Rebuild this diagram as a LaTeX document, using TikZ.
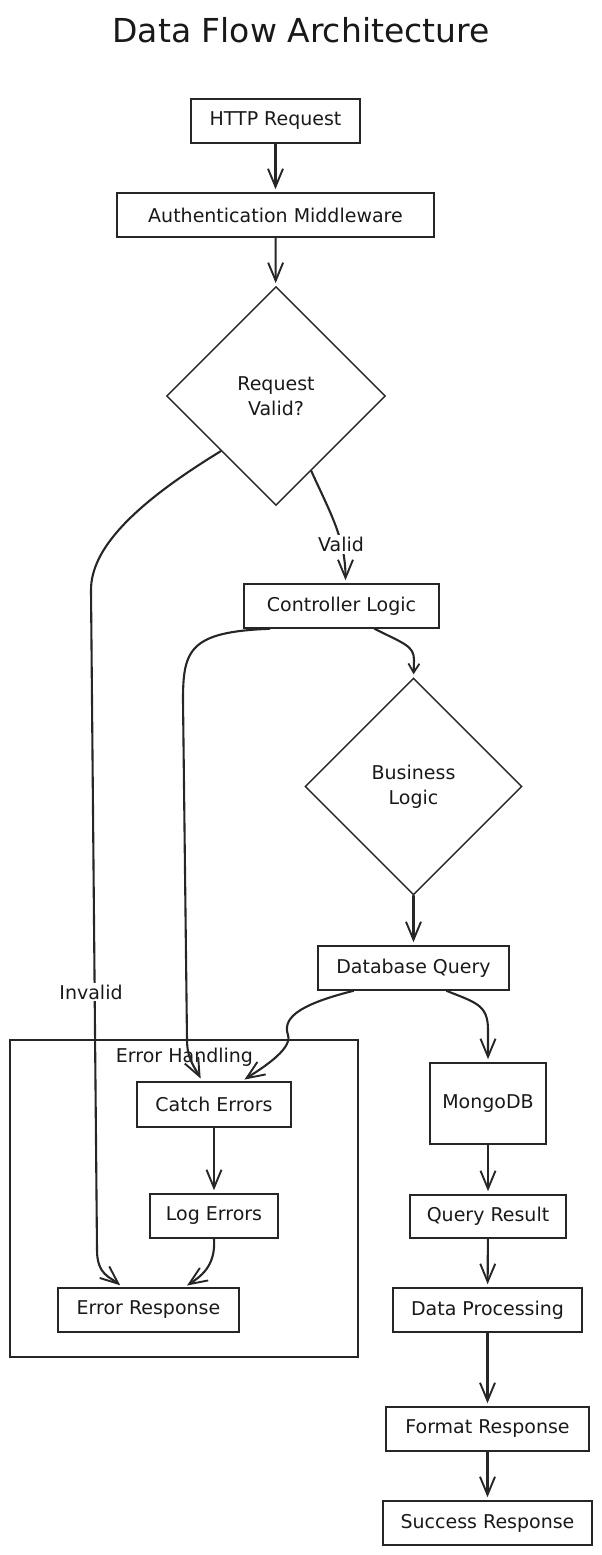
\documentclass[tikz,border=0pt]{standalone}
\usepackage{fontspec}
\setmainfont{DejaVu Sans}
\usetikzlibrary{arrows.meta,shapes.geometric,calc}
\begin{document}
\begin{tikzpicture}[x=1pt,y=-1pt,
  every node/.style={font=\fontsize{19}{25}\selectfont, text=black!90},
  box/.style={draw=black!85, line width=1.6pt, minimum height=44pt, inner sep=0pt},
  dia/.style={draw=black!85, line width=1.4pt, diamond, aspect=1, inner sep=0pt, minimum size=219pt, align=center},
  arr/.style={draw=black!85, line width=2.1pt, line cap=round, -{Straight Barb[length=18pt,width=15pt,line width=1.9pt]}, shorten >=3pt},
  smallarr/.style={arr, -{Straight Barb[length=9pt,width=11pt,line width=1.8pt]}},
  lbl/.style={fill=white, inner sep=2pt}
]
\useasboundingbox (0,0) rectangle (602,1555);

\node[font=\fontsize{33}{38}\selectfont] (title) at (301,30) {Data Flow Architecture};

\node[box, minimum width=169pt] (http) at (275.5,121) {HTTP Request};
\node[box, minimum width=317pt] (auth) at (275.5,215) {Authentication Middleware};
\node[dia] (rv) at (276,396) {Request\\Valid?};
\node[box, minimum width=195pt] (cl) at (341.5,606) {Controller Logic};
\node[dia, minimum size=217pt] (bl) at (413.5,786.5) {Business\\Logic};
\node[box, minimum width=191pt] (db) at (413.5,968) {Database Query};

\node[draw=black!85, line width=1.6pt, minimum width=348pt, minimum height=317pt] (grp) at (184,1198.5) {};
\node (grplbl) at (184.5,1057) {Error Handling};

\node[box, minimum width=154pt, minimum height=45pt] (catch) at (214,1104.5) {Catch Errors};
\node[box, minimum width=128pt] (log) at (214,1216) {Log Errors};
\node[box, minimum width=181pt] (er) at (148.5,1310) {Error Response};

\node[box, minimum width=116pt, minimum height=81pt] (mongo) at (488,1103.5) {MongoDB};
\node[box, minimum width=156pt, minimum height=43pt] (qr) at (488,1216.5) {Query Result};
\node[box, minimum width=189pt] (dp) at (487.5,1310) {Data Processing};
\node[box, minimum width=203pt] (fr) at (487.5,1429) {Format Response};
\node[box, minimum width=209pt] (sr) at (487.5,1523) {Success Response};

% connectors
\draw[arr] (http) -- (auth);
\draw[arr] (auth) -- (rv);
\draw[arr] ($(rv.south)!0.32!(rv.east)$) .. controls +(18,40) and +(0,-45) .. ($(cl.north)+(4,0)$)
   node[lbl, pos=0.68] {Valid};
\draw[arr] ($(rv.west)!0.5!(rv.south)$) .. controls +(-90,55) and +(0,-40) .. (91,590)
   -- (97,1250) .. controls +(0,25) and +(-12,-10) .. ($(er.north)+(-26,0)$);
\node[lbl] (inv) at (91,992) {Invalid};

\draw[arr] ($(cl.south)+(-72,0)$) .. controls +(-80,3) and +(0,-50) .. (183,700)
   -- (187,1040) .. controls +(0,20) and +(-6,-12) .. ($(catch.north)+(-12,0)$);
\draw[smallarr] ($(cl.south)+(33,0)$) .. controls +(30,15) and +(0,-14) .. (414,660) -- (bl.north);
\draw[arr] (bl) -- (db);
\draw[arr] ($(db.south)+(-60,0)$) .. controls +(-60,15) and +(-5,-15) .. (288,1035)
   .. controls +(5,15) and +(15,-10) .. ($(catch.north)+(28,0)$);
\draw[arr] ($(db.south)+(33,0)$) .. controls +(30,12) and +(0,-25) .. (488,1030) -- (mongo.north);
\draw[arr] (mongo) -- (qr);
\draw[arr] (qr) -- (dp);
\draw[arr] (dp) -- (fr);
\draw[arr] (fr) -- (sr);
\draw[arr] (catch) -- (log);
\draw[arr] (log.south) .. controls +(2,28) and +(15,-10) .. ($(er.north)+(36,0)$);
\end{tikzpicture}
\end{document}
